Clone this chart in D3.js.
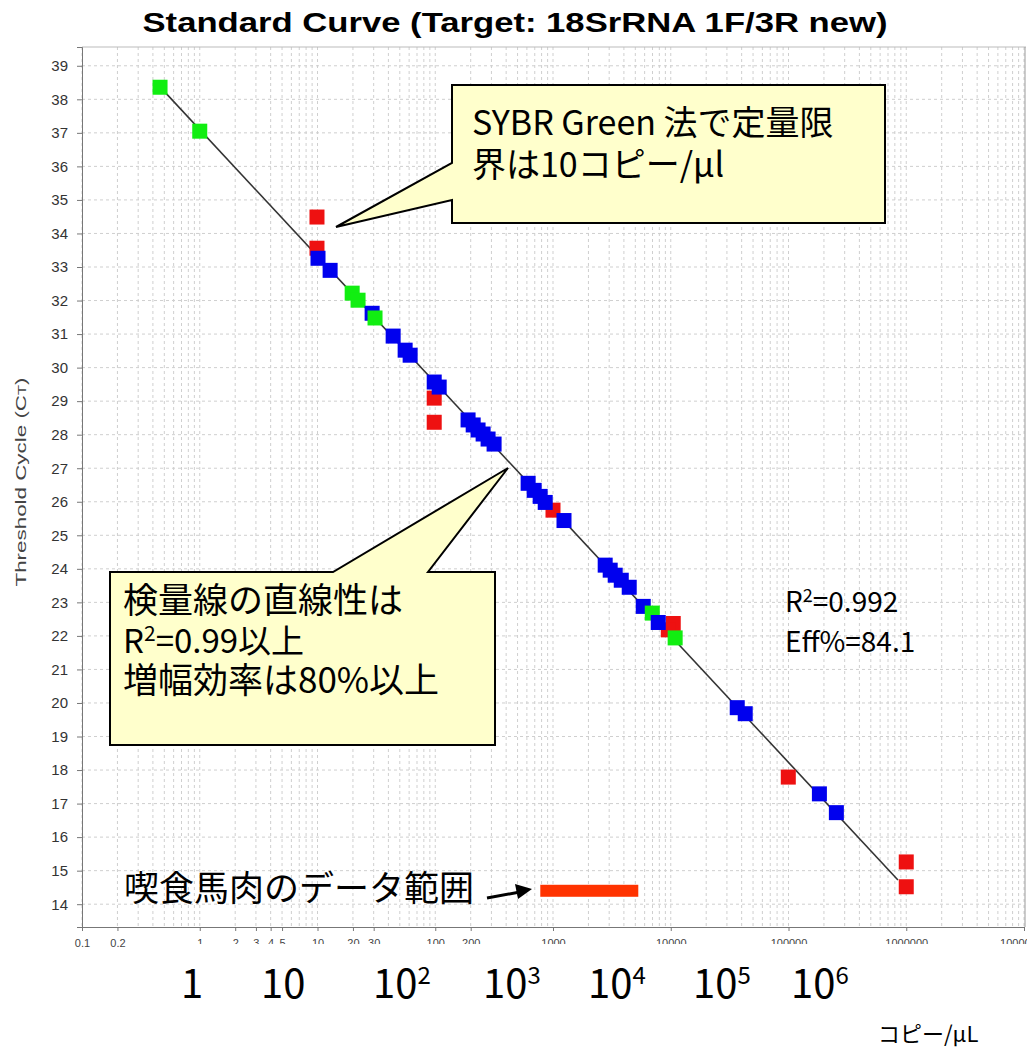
<!DOCTYPE html>
<html>
<head>
<meta charset="utf-8">
<script src="https://cdn.jsdelivr.net/npm/d3@7"></script>
<style>
  body { margin: 0; background: #fff; }
  text { font-family: "Liberation Sans", Arial, sans-serif; }
  .jp { font-family: "Noto Sans CJK JP", sans-serif; fill: #000; }
</style>
</head>
<body>
<svg id="chart" width="1027" height="1048"></svg>
<script>
// values: copies/uL (x) and threshold cycle Ct (y)
const greenCopies = [0.46, 1.0, 19.7, 22.1, 30.8, 6970, 10900];
const greenCt = [38.36, 37.05, 32.22, 32.01, 31.48, 22.68, 21.94];

const blueCopies = [10.1, 12.8, 29.1, 43.9, 55.5, 61.2, 98, 108, 190, 210, 231, 255, 281, 316,
  615, 692, 778, 859, 1240, 2775, 3060, 3375, 3800, 4440, 5840, 7830, 36700, 42900, 183000, 255000];
const blueCt = [33.26, 32.90, 31.62, 30.94, 30.52, 30.37, 29.57, 29.42, 28.44, 28.29, 28.14, 28.02, 27.87, 27.72,
  26.55, 26.34, 26.16, 25.98, 25.44, 24.11, 23.96, 23.81, 23.66, 23.45, 22.88, 22.40, 19.86, 19.68, 17.29, 16.73];

const redCopies = [9.9, 9.9, 98, 98, 1000, 10500, 9530, 99600, 1000000, 1000000];
const redCt = [34.49, 33.56, 29.09, 28.37, 25.75, 22.37, 22.18, 17.79, 15.26, 14.52];

// regression line end points
const fitCopies = [0.46, 850000];
const fitCt = [38.37, 14.72];

// range of horse meat samples (red bar)
const rangeCopies = [780, 5300];
const rangeCt = 14.4;

const yTicks = d3.range(14, 40);
const xTicks = [0.1, 0.2, 1, 2, 3, 4, 5, 10, 20, 30, 100, 200, 1000, 10000, 100000, 1000000, 10000000];
const decadeLabels = ["1", "10", "10", "10", "10", "10", "10"];
const decadePowers = ["", "", "2", "3", "4", "5", "6"];
const decadeLabelX = [181, 261, 373, 483, 588, 693, 791]; // hand placed under the axis

// set the dimensions of the plot box
const margin = { top: 47, left: 82, right: 1024, bottom: 927 };

const svg = d3.select("#chart");
svg.append("rect").attr("width", 1027).attr("height", 1048).attr("fill", "#fff");

const x = d3.scaleLog().domain([0.1, 1e7]).range([margin.left, margin.right]);
const y = d3.scaleLinear().domain([13.32, 39.56]).range([margin.bottom, margin.top]);

// grid lines (dashed)
const minor = [];
for (let p = -1; p <= 6; p++) for (let k = 1; k <= 9; k++) minor.push(k * Math.pow(10, p));
minor.push(1e7);

svg.append("g")
  .selectAll("line")
  .data(minor)
  .join("line")
  .attr("x1", (d) => x(d)).attr("x2", (d) => x(d))
  .attr("y1", margin.top).attr("y2", margin.bottom)
  .attr("stroke", "#cfcfcf").attr("stroke-dasharray", "3,3");

svg.append("g")
  .selectAll("line")
  .data(yTicks)
  .join("line")
  .attr("x1", margin.left).attr("x2", margin.right)
  .attr("y1", (d) => y(d)).attr("y2", (d) => y(d))
  .attr("stroke", "#cfcfcf").attr("stroke-dasharray", "3,3");

// plot box
svg.append("line").attr("x1", margin.left).attr("x2", 1026).attr("y1", margin.top).attr("y2", margin.top).attr("stroke", "#bbb");
svg.append("line").attr("x1", 1025).attr("x2", 1025).attr("y1", margin.top).attr("y2", margin.bottom).attr("stroke", "#999");

// Y axis
const yAxis = svg.append("g")
  .attr("transform", `translate(${margin.left},0)`)
  .call(d3.axisLeft(y).tickValues(yTicks).tickSize(5).tickPadding(9).tickFormat(d3.format("d")));
yAxis.select(".domain").attr("stroke", "#777");
yAxis.selectAll(".tick line").attr("stroke", "#777");
yAxis.selectAll("text").attr("fill", "#333").style("font-size", "15px");

// X axis
const xAxis = svg.append("g")
  .attr("transform", `translate(0,${margin.bottom})`)
  .call(d3.axisBottom(x).tickValues(xTicks).tickSize(4).tickPadding(8)
    .tickFormat((d) => (d < 1 ? String(d) : d3.format("d")(d))));
xAxis.select(".domain").attr("stroke", "#777");
xAxis.selectAll(".tick line").attr("stroke", "#777");
xAxis.selectAll("text").attr("fill", "#444").style("font-size", "11px");

// the original picture cuts most tick labels in half
svg.append("defs").append("clipPath").attr("id", "cut")
  .append("rect").attr("x", -60).attr("y", 0).attr("width", 120).attr("height", 17);
xAxis.selectAll(".tick text").filter((d) => d > 0.2).attr("clip-path", "url(#cut)");

// title
svg.append("text")
  .attr("x", 515).attr("y", 32)
  .attr("text-anchor", "middle")
  .attr("textLength", 745).attr("lengthAdjust", "spacingAndGlyphs")
  .style("font-size", "27px").style("font-weight", "bold")
  .text("Standard Curve (Target: 18SrRNA 1F/3R new)");

// y label
const yl = svg.append("text")
  .attr("transform", "translate(26,482) rotate(-90)")
  .attr("text-anchor", "middle")
  .attr("textLength", 209).attr("lengthAdjust", "spacingAndGlyphs")
  .attr("fill", "#444")
  .style("font-size", "15px");
yl.append("tspan").text("Threshold Cycle (C");
yl.append("tspan").style("font-size", "11px").text("T");
yl.append("tspan").text(")");

// regression line
svg.append("line")
  .attr("x1", x(fitCopies[0])).attr("y1", y(fitCt[0]))
  .attr("x2", x(fitCopies[1])).attr("y2", y(fitCt[1]))
  .attr("stroke", "#333").attr("stroke-width", 1.6);

// points: red wells underneath, then blue and green wells in order of copies
const size = 15;
const reds = redCopies.map((v, i) => ({ c: v, ct: redCt[i], color: "#ee1111" }));
const others = blueCopies.map((v, i) => ({ c: v, ct: blueCt[i], color: "#0000ee" }))
  .concat(greenCopies.map((v, i) => ({ c: v, ct: greenCt[i], color: "#11ee11" })))
  .sort((a, b) => a.c - b.c);

svg.append("g")
  .selectAll("rect")
  .data(reds.concat(others))
  .join("rect")
  .attr("x", (d) => x(d.c) - size / 2)
  .attr("y", (d) => y(d.ct) - size / 2)
  .attr("width", size).attr("height", size)
  .attr("fill", (d) => d.color);

// callout 1
svg.append("path")
  .attr("d", "M452,85 H885 V223 H452 V200 L336,227 L452,163 Z")
  .attr("fill", "#ffffcc").attr("stroke", "#000").attr("stroke-width", 2);
svg.append("text").attr("class", "jp").attr("x", 472).attr("y", 135).style("font-size", "34px")
  .text("SYBR Green 法で定量限");
svg.append("text").attr("class", "jp").attr("x", 472).attr("y", 177).style("font-size", "34px")
  .text("界は10コピー/μl");

// callout 2
svg.append("path")
  .attr("d", "M110,572 H333 L508,468 L428,572 H495 V745 H110 Z")
  .attr("fill", "#ffffcc").attr("stroke", "#000").attr("stroke-width", 2);
svg.append("text").attr("class", "jp").attr("x", 123).attr("y", 613).style("font-size", "35px")
  .text("検量線の直線性は");
const r2 = svg.append("text").attr("class", "jp").attr("x", 123).attr("y", 653).style("font-size", "33px");
r2.append("tspan").text("R");
r2.append("tspan").attr("dy", -12).style("font-size", "21px").text("2");
r2.append("tspan").attr("dy", 12).text("=0.99以上");
svg.append("text").attr("class", "jp").attr("x", 123).attr("y", 693).style("font-size", "35px")
  .text("増幅効率は80%以上");

// fit stats
const st = svg.append("text").attr("class", "jp").attr("x", 785).attr("y", 612).style("font-size", "28px");
st.append("tspan").text("R");
st.append("tspan").attr("dy", -10).style("font-size", "18px").text("2");
st.append("tspan").attr("dy", 10).text("=0.992");
svg.append("text").attr("class", "jp").attr("x", 785).attr("y", 652).style("font-size", "28px")
  .text("Eff%=84.1");

// horse meat data range
svg.append("text").attr("class", "jp").attr("x", 124).attr("y", 901).style("font-size", "35px")
  .text("喫食馬肉のデータ範囲");
svg.append("line").attr("x1", 487).attr("y1", 898).attr("x2", 520).attr("y2", 892)
  .attr("stroke", "#000").attr("stroke-width", 3);
svg.append("path").attr("d", "M532,889 L515,884 L518,899 Z").attr("fill", "#000");
svg.append("rect")
  .attr("x", x(rangeCopies[0])).attr("y", y(rangeCt) - 6)
  .attr("width", x(rangeCopies[1]) - x(rangeCopies[0])).attr("height", 12)
  .attr("fill", "#ff3300");

// big decade labels under the axis
decadeLabels.forEach((lab, i) => {
  const t = svg.append("text").attr("class", "jp")
    .attr("x", decadeLabelX[i]).attr("y", 998).style("font-size", "40px");
  t.append("tspan").text(lab);
  if (decadePowers[i]) t.append("tspan").attr("dy", -14).style("font-size", "24px").text(decadePowers[i]);
});

svg.append("text").attr("class", "jp").attr("x", 878).attr("y", 1042).style("font-size", "22px")
  .text("コピー/μL");
</script>
</body>
</html>
